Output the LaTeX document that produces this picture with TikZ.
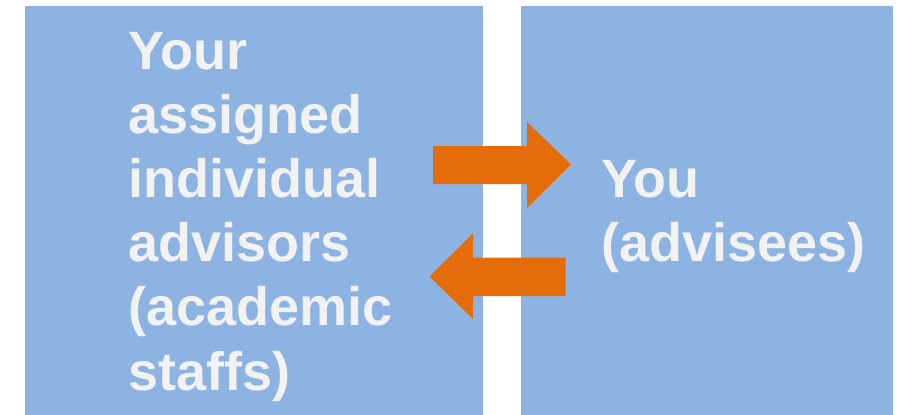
\documentclass[tikz,border=0pt]{standalone}
\usepackage{fontspec}
\setmainfont{Liberation Sans}
\definecolor{boxblue}{HTML}{8DB3E2}
\definecolor{arroworange}{HTML}{E46C0A}
\definecolor{txt}{HTML}{F2F2F2}
\begin{document}
\begin{tikzpicture}[x=1pt,y=-1pt,
  panel/.style={fill=boxblue,draw=none},
  bigarrow/.style={fill=arroworange,draw=none},
  label/.style={anchor=base west,inner sep=0pt,text=txt,font=\fontsize{54}{64}\selectfont\bfseries}]
\useasboundingbox (0,0) rectangle (900,415);
\fill[white] (0,0) rectangle (900,415);
\path[panel] (25,6) rectangle (483,415);
\path[panel] (521,6) rectangle (893,415);
% arrows
\path[bigarrow] (433,146) -- (527,146) -- (527,122) -- (571,164.5) -- (527,208) -- (527,184) -- (433,184) -- cycle;
\path[bigarrow] (565.5,257.5) -- (473,257.5) -- (473,233.5) -- (429.5,276.5) -- (473,319) -- (473,296) -- (565.5,296) -- cycle;
% left text
\node[label] (l1) at (128,69) {Your};
\node[label] (l2) at (128,133.2) {assigned};
\node[label] (l3) at (128,197.4) {individual};
\node[label] (l4) at (128,261.6) {advisors};
\node[label] (l5) at (128,325.8) {(academic};
\node[label] (l6) at (128,390) {staffs)};
% right text
\node[label] (r1) at (601,197.4) {You};
\node[label] (r2) at (601,261.6) {(advisees)};
\end{tikzpicture}
\end{document}
